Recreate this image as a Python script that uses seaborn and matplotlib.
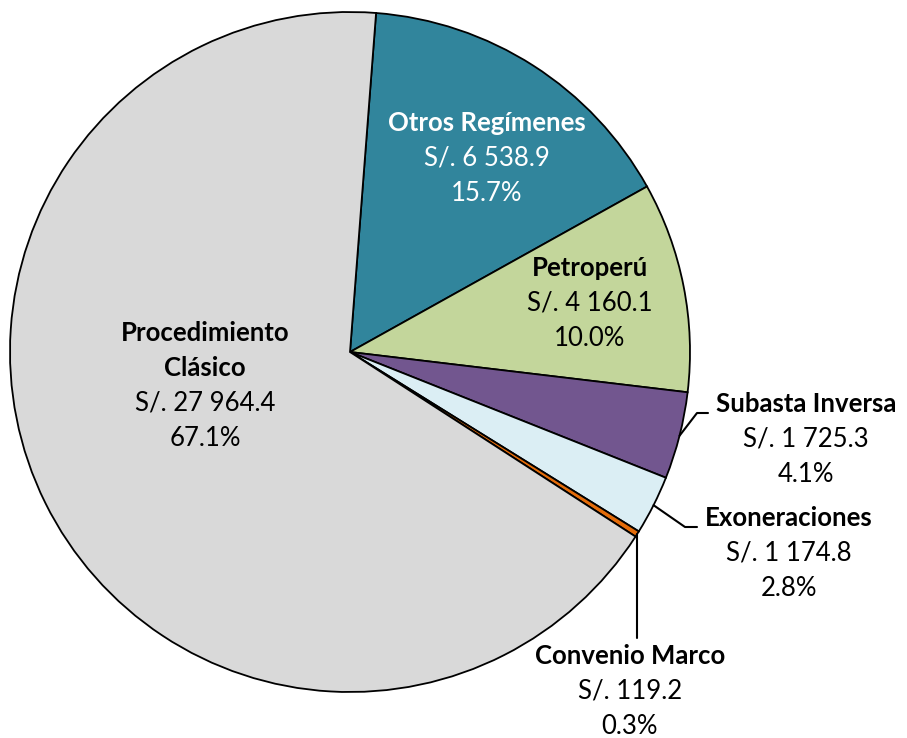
import matplotlib

matplotlib.use("Agg")
import matplotlib.pyplot as plt
import numpy as np
import seaborn as sns

# categories in drawing order (clockwise from just right of the top)
CATEGORIES = [
    "Otros Regímenes",
    "Petroperú",
    "Subasta Inversa",
    "Exoneraciones",
    "Convenio Marco",
    "Procedimiento\nClásico",
]
AMOUNTS = [6538.9, 4160.1, 1725.3, 1174.8, 119.2, 27964.4]
AMOUNT_LABELS = ["S/. 6 538.9", "S/. 4 160.1", "S/. 1 725.3", "S/. 1 174.8", "S/. 119.2", "S/. 27 964.4"]
PCT_LABELS = ["15.7%", "10.0%", "4.1%", "2.8%", "0.3%", "67.1%"]
COLORS = ["#31859C", "#C3D69B", "#72568F", "#DBEEF4", "#E46C0A", "#D9D9D9"]

W, H = 907, 738
CX, CY, R = 350, 352, 340


def px(x, y):
    """pixel position (from top-left) -> data coords of the unit pie"""
    return (x - CX) / R, (CY - y) / R


sns.set_theme(style="white")
plt.rcParams["font.family"] = ["Lato", "DejaVu Sans"]

fig = plt.figure(figsize=(W / 100, H / 100), dpi=100)
ax = fig.add_axes([0, 0, 1, 1])

wedges, _ = ax.pie(
    AMOUNTS,
    colors=COLORS,
    startangle=85.6,
    counterclock=False,
    radius=1,
    center=(0, 0),
    wedgeprops=dict(edgecolor="black", linewidth=1.3),
    frame=True,
)
ax.set_xlim(-CX / R, (W - CX) / R)
ax.set_ylim(-(H - CY) / R, CY / R)
ax.set_aspect("auto")
ax.axis("off")

# label anchor (pixel centre of first line), text colour
label_pos = [
    (487, 123, "white"),
    (590, 268, "black"),
    (806, 404, "black"),
    (789, 518, "black"),
    (630, 656, "black"),
    (205, 333, "black"),
]
FS = 18.5
LINE = 35

for name, amt, pct, (lx, ly, col) in zip(CATEGORIES, AMOUNT_LABELS, PCT_LABELS, label_pos):
    y = ly
    for ln in name.split("\n"):
        ax.text(*px(lx, y), ln, ha="center", va="center", fontsize=FS,
                fontweight="bold", color=col)
        y += LINE
    ax.text(*px(lx, y), amt, ha="center", va="center", fontsize=FS, color=col)
    y += LINE
    ax.text(*px(lx, y), pct, ha="center", va="center", fontsize=FS, color=col)


def edge_point(w):
    mid = np.deg2rad((w.theta1 + w.theta2) / 2)
    return np.cos(mid), np.sin(mid)


# leader lines for the small slices
sx, sy = edge_point(wedges[2])
ax.plot([sx, px(697, 413)[0], px(708, 413)[0]],
        [sy, px(697, 413)[1], px(708, 413)[1]], color="black", lw=1.5)
ex, ey = edge_point(wedges[3])
ax.plot([ex, px(685, 527)[0], px(697, 527)[0]],
        [ey, px(685, 527)[1], px(697, 527)[1]], color="black", lw=1.5)
cx_, cy_ = edge_point(wedges[4])
ax.plot([cx_, cx_], [cy_, px(0, 638)[1]], color="black", lw=1.5)

fig.savefig("out.png", dpi=100)
